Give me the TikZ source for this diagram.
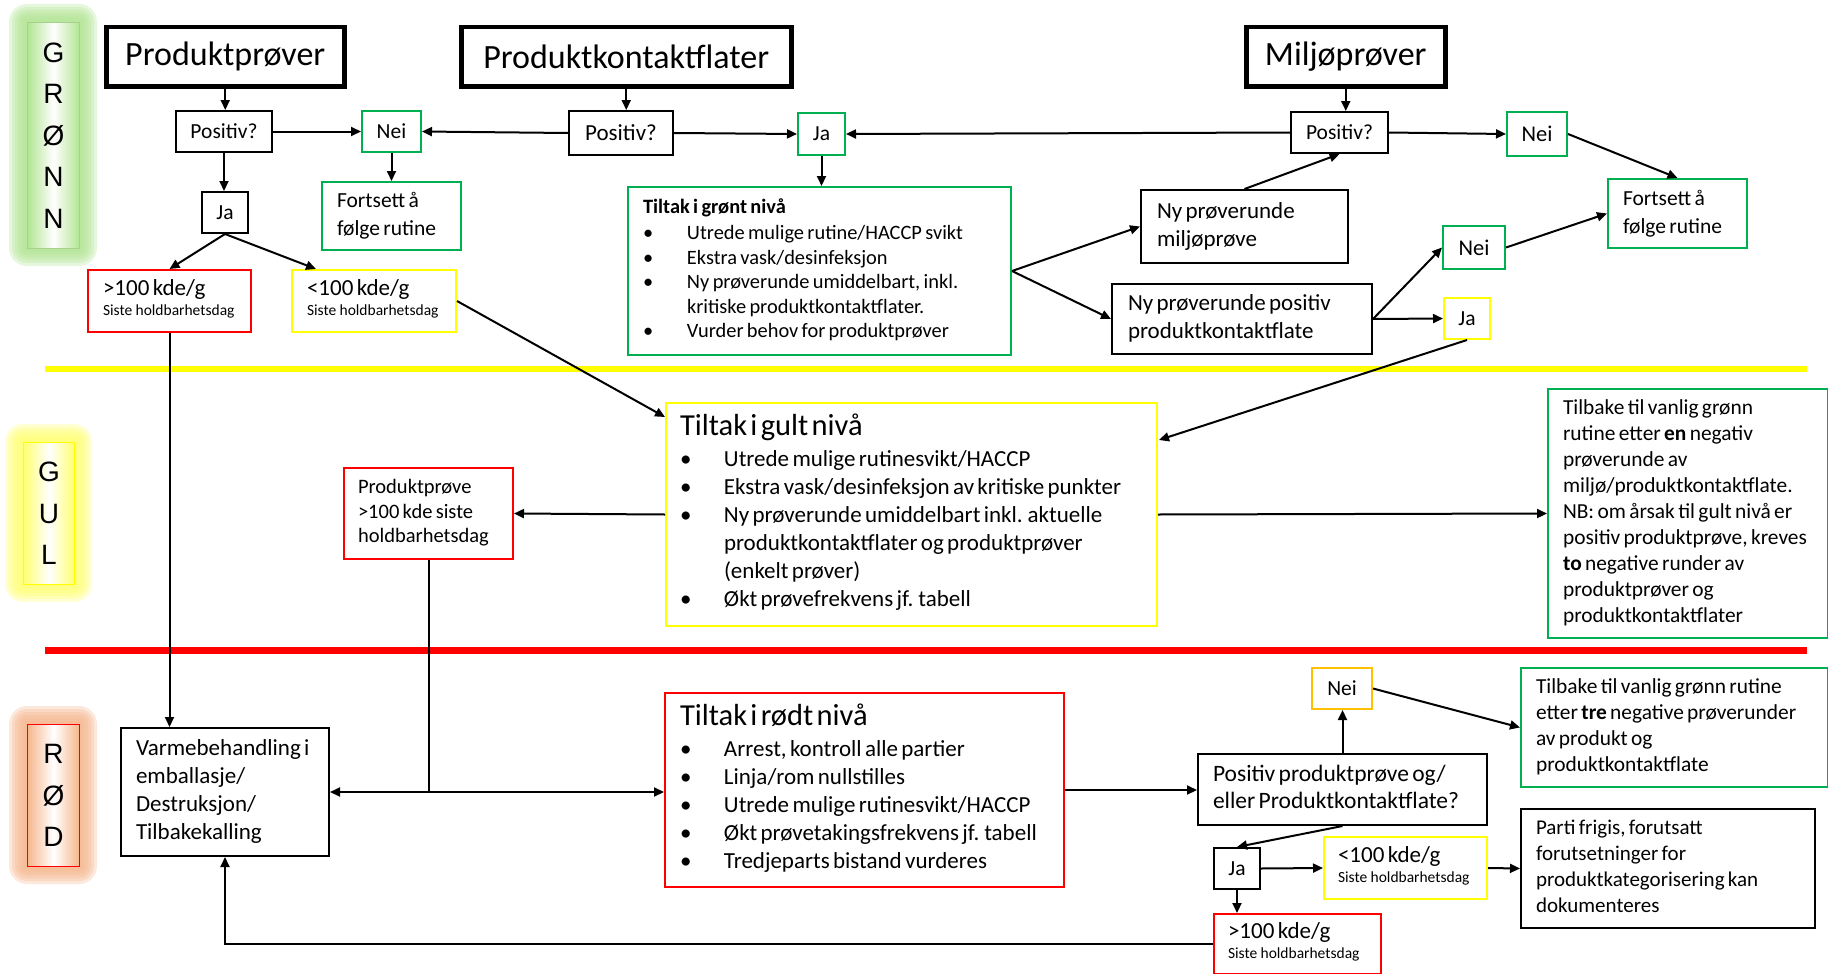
\documentclass[tikz,border=0pt]{standalone}
\usepackage{fontspec}
\setmainfont{Carlito}
\newfontfamily\labfont{Liberation Sans}
\usetikzlibrary{arrows.meta,calc}
\definecolor{cgreen}{HTML}{00B050}
\definecolor{cyellow}{HTML}{FFFF00}
\definecolor{cred}{HTML}{FF0000}
\definecolor{corange}{HTML}{FFC000}
\definecolor{glowG}{HTML}{B2E592}
\definecolor{glowY}{HTML}{FFFF70}
\definecolor{glowR}{HTML}{F6B68C}
\definecolor{bordG}{HTML}{A9D18E}
\newcommand\bul{\makebox[44pt][l]{\textbullet}}
\newcommand\cont{\hspace*{44pt}}
\newcommand\fs[2]{\fontsize{#1}{#2}\selectfont}
\newcommand\kdetext[1]{\fs{15.5}{20}\begin{tabular}{@{}l@{}}{\fs{23}{20}#1}\\Siste holdbarhetsdag\end{tabular}}
\newcommand\glowrect[5]{%
  \foreach \r in {18,15,12,9,6,3}{\fill[#1, opacity=0.3, rounded corners=\r pt] (#2-\r,#3-\r) rectangle (#4+\r,#5+\r);}}
\begin{document}
\begin{tikzpicture}[x=1pt,y=-1pt,
  bx/.style={draw, line width=2pt, anchor=north west, inner sep=0pt},
  hd/.style={bx, line width=4.5pt, font=\fs{34}{40}},
  sm/.style={bx, font=\fs{21.5}{26}},
  tx/.style={bx, align=left, inner xsep=15pt},
  lab/.style={bx, line width=1pt, align=center, font=\labfont\fs{28}{41.5}},
  arr/.style={line width=2pt, -{Triangle[length=10pt,width=9pt]}},
  ln/.style={line width=2pt},
]
\useasboundingbox (0,0) rectangle (1828,974);
\fill[white] (0,0) rectangle (1828,974);

% level labels with glow
\glowrect{glowG}{27}{22}{79}{248}
\glowrect{glowY}{23}{442}{74}{584}
\glowrect{glowR}{27}{724}{79}{866}
\node[lab, draw=bordG, minimum width=52pt, minimum height=226pt, left color=glowG, right color=glowG, middle color=white] (lgr) at (27,22) {G\\R\\Ø\\N\\N};
\node[lab, draw=cyellow, minimum width=51pt, minimum height=142pt, left color=glowY, right color=glowY, middle color=white] (lgu) at (23,442) {G\\U\\L};
\node[lab, draw=cred, minimum width=52pt, minimum height=142pt, left color=glowR, right color=glowR, middle color=white] (lrd) at (27,724) {R\\Ø\\D};

% level rules
\draw[cyellow, line width=6pt] (45,369) -- (1807,369);
\draw[cred, line width=7pt] (45,650) -- (1807,650);

% headings
\node[hd, minimum width=238pt, minimum height=59pt] (pp) at (104,25) {Produktprøver};
\node[hd, minimum width=330pt, minimum height=59pt] (pk) at (459,25) {Produktkontaktflater};
\node[hd, minimum width=199pt, minimum height=59pt] (mp) at (1244,25) {Miljøprøver};

% small decision boxes
\node[sm, minimum width=96pt, minimum height=41pt] (pos1) at (175,110) {Positiv?};
\node[sm, minimum width=104pt, minimum height=44pt, font=\fs{23}{26}] (pos2) at (568,110) {Positiv?};
\node[sm, minimum width=97pt, minimum height=41pt] (pos3) at (1290,111) {Positiv?};
\node[sm, draw=cgreen, minimum width=59pt, minimum height=41pt] (nei1) at (361,110) {Nei};
\node[sm, minimum width=46pt, minimum height=41pt] (ja1) at (201,191) {Ja};
\node[sm, draw=cgreen, minimum width=47pt, minimum height=42pt] (ja2) at (797,112) {Ja};
\node[sm, draw=cgreen, minimum width=60pt, minimum height=44pt, font=\fs{22.5}{26}] (nei3) at (1506,111) {Nei};
\node[sm, draw=cgreen, minimum width=62pt, minimum height=43pt, font=\fs{22.5}{26}] (nei4) at (1442,225) {Nei};
\node[sm, draw=cyellow, minimum width=46pt, minimum height=41pt] (ja3) at (1443,297) {Ja};
\node[sm, draw=corange, minimum width=60pt, minimum height=41pt] (nei5) at (1311,667) {Nei};
\node[sm, minimum width=46pt, minimum height=41pt] (ja4) at (1213,847) {Ja};

% green level text boxes
\node[tx, draw=cgreen, minimum width=139pt, minimum height=68pt, text width=109pt] (fort1) at (321,181)
  {\fs{21.5}{28}\begin{tabular}{@{}l@{}}Fortsett å\\følge rutine\end{tabular}};
\node[tx, draw=cgreen, minimum width=139pt, minimum height=69pt, text width=109pt] (fort2) at (1607,178)
  {\fs{21.5}{28}\begin{tabular}{@{}l@{}}Fortsett å\\følge rutine\end{tabular}};
\node[tx, draw=cred, minimum width=163pt, minimum height=62pt, text width=133pt] (g100a) at (87,269) {\kdetext{>100 kde/g}};
\node[tx, draw=cyellow, minimum width=164pt, minimum height=62pt, text width=134pt] (l100a) at (291,269) {\kdetext{<100 kde/g}};
\node[tx, draw=cgreen, minimum width=383pt, minimum height=168pt, text width=353pt] (tgr) at (627,186)
  {\fs{20.4}{24.5}\begin{tabular}{@{}l@{}}\textbf{Tiltak i grønt nivå}\\[1.5pt]
  \bul Utrede mulige rutine/HACCP svikt\\
  \bul Ekstra vask/desinfeksjon\\
  \bul Ny prøverunde umiddelbart, inkl.\\
  \cont kritiske produktkontaktflater.\\
  \bul Vurder behov for produktprøver\end{tabular}};
\node[tx, inner xsep=16pt, minimum width=207pt, minimum height=73pt, text width=175pt] (nm) at (1140,189)
  {\fs{23}{28}\begin{tabular}{@{}l@{}}Ny prøverunde\\miljøprøve\end{tabular}};
\node[tx, inner xsep=16pt, minimum width=260pt, minimum height=70pt, text width=228pt] (np) at (1111,283)
  {\fs{23}{28}\begin{tabular}{@{}l@{}}Ny prøverunde positiv\\produktkontaktflate\end{tabular}};

% yellow level
\node[tx, inner xsep=14pt, draw=cyellow, minimum width=491pt, minimum height=223pt, text width=463pt] (tgu) at (665,402)
  {\fs{23}{28}\begin{tabular}{@{}l@{}}{\fs{30.5}{28}Tiltak i gult nivå}\\[3pt]
  \bul Utrede mulige rutinesvikt/HACCP\\
  \bul Ekstra vask/desinfeksjon av kritiske punkter\\
  \bul Ny prøverunde umiddelbart inkl. aktuelle\\
  \cont produktkontaktflater og produktprøver\\
  \cont (enkelt prøver)\\
  \bul Økt prøvefrekvens jf. tabell\end{tabular}};
\node[tx, inner xsep=14pt, draw=cred, minimum width=169pt, minimum height=91pt, text width=141pt] (ppr) at (343,467)
  {\fs{20.5}{24.5}\begin{tabular}{@{}l@{}}Produktprøve\\>100 kde siste\\holdbarhetsdag\end{tabular}};
\node[tx, draw=cgreen, minimum width=280pt, minimum height=249pt, text width=250pt] (tb1) at (1547,388)
  {\fs{21.4}{26}\begin{tabular}{@{}l@{}}Tilbake til vanlig grønn\\rutine etter \textbf{en} negativ\\prøverunde av\\miljø/produktkontaktflate.\\NB: om årsak til gult nivå er\\positiv produktprøve, kreves\\\textbf{to} negative runder av\\produktprøver og\\produktkontaktflater\end{tabular}};

% red level
\node[tx, minimum width=208pt, minimum height=128pt, text width=178pt] (varme) at (120,727)
  {\fs{23}{28}\begin{tabular}{@{}l@{}}Varmebehandling i\\emballasje/\\Destruksjon/\\Tilbakekalling\end{tabular}};
\node[tx, draw=cred, minimum width=399pt, minimum height=194pt, text width=369pt] (trd) at (664,692)
  {\fs{23}{28}\begin{tabular}{@{}l@{}}{\fs{30.5}{28}Tiltak i rødt nivå}\\[3pt]
  \bul Arrest, kontroll alle partier\\
  \bul Linja/rom nullstilles\\
  \bul Utrede mulige rutinesvikt/HACCP\\
  \bul Økt prøvetakingsfrekvens jf. tabell\\
  \bul Tredjeparts bistand vurderes\end{tabular}};
\node[tx, minimum width=289pt, minimum height=71pt, text width=259pt] (pp2) at (1197,753)
  {\fs{23.5}{27}\begin{tabular}{@{}l@{}}Positiv produktprøve og/\\eller Produktkontaktflate?\end{tabular}};
\node[tx, draw=cgreen, minimum width=307pt, minimum height=119pt, text width=277pt] (tb2) at (1520,667)
  {\fs{21.4}{26}\begin{tabular}{@{}l@{}}Tilbake til vanlig grønn rutine\\etter \textbf{tre} negative prøverunder\\av produkt og\\produktkontaktflate\end{tabular}};
\node[tx, minimum width=294pt, minimum height=119pt, text width=264pt] (parti) at (1520,808)
  {\fs{21}{26}\begin{tabular}{@{}l@{}}Parti frigis, forutsatt\\forutsetninger for\\produktkategorisering kan\\dokumenteres\end{tabular}};
\node[tx, inner xsep=14pt, draw=cyellow, minimum width=163pt, minimum height=62pt, text width=135pt] (l100b) at (1323,836) {\kdetext{<100 kde/g}};
\node[tx, inner xsep=14pt, draw=cred, minimum width=167pt, minimum height=60pt, text width=139pt] (g100b) at (1213,913) {\kdetext{>100 kde/g}};

% connectors: green level
\draw[arr] (pp.south) -- (pp.south |- pos1.north);
\draw[arr] (pos1.east) -- (nei1.west);
\draw[arr] (pos1.south) -- (pos1.south |- ja1.north);
\draw[arr] (nei1.south) -- (nei1.south |- fort1.north);
\draw[arr] (pos2.west) -- (nei1.east);
\draw[arr] (pk.south) -- (pk.south |- pos2.north);
\draw[arr] (pos2.east) -- (ja2.west);
\draw[arr] (pos3.west) -- (ja2.east);
\draw[arr] (mp.south) -- (mp.south |- pos3.north);
\draw[arr] (pos3.east) -- (nei3.west);
\draw[arr] (ja2.south) -- (ja2.south |- tgr.north);
\draw[arr] (ja1.south) -- (g100a.north);
\draw[arr] (ja1.south) -- ($(l100a.north west)+(25,0)$);
\draw[arr] (g100a.south) -- (g100a.south |- varme.north);
\draw[arr] (l100a.east) -- ($(tgu.north west)+(0,15)$);
\draw[arr] (tgr.east) -- (nm.west);
\draw[arr] (tgr.east) -- (np.west);
\draw[arr] (nm.north) -- (pos3.south);
\draw[arr] (nei3.east) -- (fort2.north);
\draw[arr] (nei4.east) -- (fort2.west);
\draw[arr] (np.east) -- (nei4.west);
\draw[arr] (np.east) -- (ja3.west);
\draw[arr] (ja3.south) -- ($(tgu.north east)+(1,38)$);

% connectors: yellow level
\draw[arr] (tgu.east) -- (tb1.west);
\draw[arr] (tgu.west) -- (ppr.east);
\coordinate (jv) at (ppr.south |- varme.east);
\draw[ln] (ppr.south) -- (jv);
\draw[arr] (jv) -- (varme.east);
\draw[arr] (jv) -- (jv -| trd.west);

% connectors: red level
\draw[arr] (trd.east) -- (trd.east -| pp2.west);
\draw[arr] (pp2.north) -- (pp2.north |- nei5.south);
\draw[arr] (nei5.east) -- (tb2.west);
\draw[arr] (pp2.south) -- (ja4.north);
\draw[arr] (ja4.east) -- (l100b.west);
\draw[arr] (l100b.east) -- (parti.west);
\draw[arr] (ja4.south) -- (ja4.south |- g100b.north);
\draw[arr] (g100b.west) -| (varme.south);
\end{tikzpicture}
\end{document}
